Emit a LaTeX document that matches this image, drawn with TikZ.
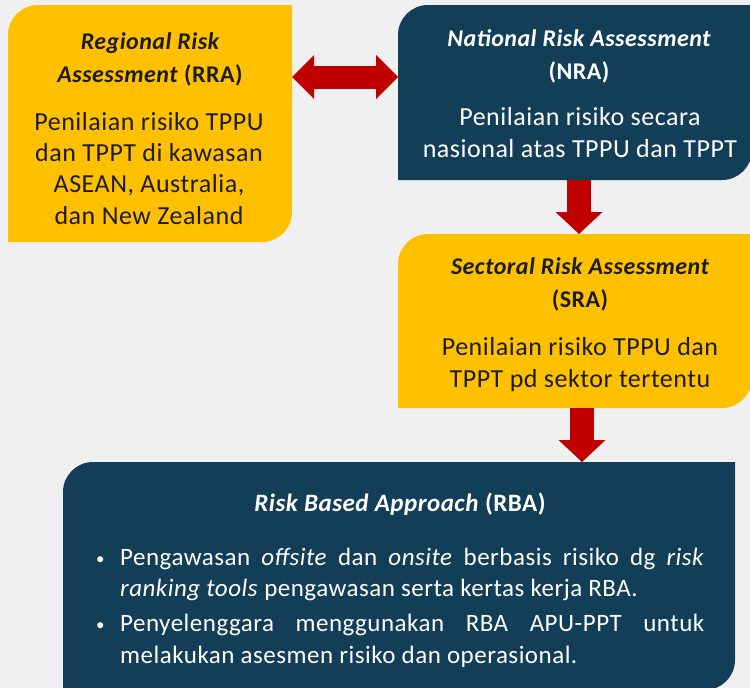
\documentclass[tikz,border=0pt]{standalone}
\usepackage{fontspec}
\setmainfont{Carlito}[LetterSpace=2]
\usetikzlibrary{arrows.meta,backgrounds}
\definecolor{RamYellow}{RGB}{255,192,0}
\definecolor{RamNavy}{RGB}{19,62,87}
\definecolor{RamRed}{RGB}{192,0,0}
\definecolor{RamBg}{RGB}{240,240,240}
\definecolor{RamInk}{RGB}{28,28,28}
\tikzset{
  ram/area/.style={
    inner sep=0pt,
    outer sep=0pt
  },
  ram/title/.style={
    anchor=base,
    align=center,
    inner sep=0pt,
    font=\fontsize{24}{32.5}\selectfont\bfseries\itshape
  },
  ram/body/.style={
    anchor=base,
    align=center,
    inner sep=0pt,
    font=\fontsize{26}{31.3}\selectfont
  },
  ram/onyellow/.style={text=RamInk},
  ram/onnavy/.style={text=white},
  ram/arrow/.style={-{Triangle[length=22pt,width=47pt,line width=0pt]}, line width=24pt, draw=RamRed},
  ram/dblarrow/.style={{Triangle[length=22pt,width=44pt,line width=0pt]}-{Triangle[length=22pt,width=44pt,line width=0pt]}, line width=23pt, draw=RamRed}
}
\newcommand\rambullet{\makebox[23pt][l]{\hspace{-1pt}\raisebox{1pt}{\fontsize{17}{17}\selectfont\textbullet}}}

\begin{document}
\begin{tikzpicture}[x=1pt,y=1pt]
  \useasboundingbox (0,0) rectangle (750,-688);
  % box areas
  \node[ram/area,minimum width=284pt,minimum height=237pt] (rra) at (150,-123.5) {};
  \node[ram/area,minimum width=354pt,minimum height=175pt] (nra) at (575,-92.5) {};
  \node[ram/area,minimum width=354pt,minimum height=174pt] (sra) at (575,-321) {};
  \node[ram/area,minimum width=672pt,minimum height=228pt] (rba) at (399,-576) {};
  \begin{scope}[on background layer]
    \fill[RamBg] (0,0) rectangle (750,-688);
    \foreach \n/\c in {rra/RamYellow,nra/RamNavy,sra/RamYellow,rba/RamNavy}
      \fill[\c] (\n.south west) -- ([yshift=-30pt]\n.north west)
        arc[start angle=180,end angle=90,radius=30pt] -- (\n.north east)
        -- ([yshift=30pt]\n.south east)
        arc[start angle=0,end angle=-90,radius=30pt] -- cycle;
  \end{scope}

  % texts (base = last line)
  \node[ram/title,ram/onyellow] (rraTitle) at (150,-82) {Regional Risk\\Assessment \textup{(RRA)}};
  \node[ram/body,ram/onyellow] (rraBody) at (149,-224) {Penilaian risiko TPPU\\dan TPPT di kawasan\\ASEAN, Australia,\\dan New Zealand};
  \node[ram/title,ram/onnavy] (nraTitle) at (579,-79) {National Risk Assessment\\\textup{(NRA)}};
  \node[ram/body,ram/onnavy] (nraBody) at (580,-157) {Penilaian risiko secara\\nasional atas TPPU dan TPPT};
  \node[ram/title,ram/onyellow] (sraTitle) at (580,-307) {Sectoral Risk Assessment\\\textup{(SRA)}};
  \node[ram/body,ram/onyellow] (sraBody) at (580,-387) {Penilaian risiko TPPU dan\\TPPT pd sektor tertentu};
  \node[ram/title,ram/onnavy,font=\fontsize{25}{32}\selectfont\bfseries\itshape] (rbaTitle) at (400,-511) {Risk Based Approach \textup{(RBA)}};
  \node[ram/onnavy,anchor=base west,inner sep=0pt,text width=607pt,align=justify,
        font=\fontsize{25}{31.5}\selectfont] (rbaList) at (97,-565) {%
    \hyphenpenalty=10000\exhyphenpenalty=10000
    \hangindent=23pt\hangafter=1\noindent\rambullet Pengawasan
    \textit{offsite} dan \textit{onsite} berbasis risiko dg \textit{risk}\linebreak
    \textit{ranking tools} pengawasan serta kertas kerja RBA.\par\vskip 3.5pt
    \hangindent=23pt\hangafter=1\noindent\rambullet Penyelenggara
    menggunakan RBA APU-PPT untuk\linebreak
    melakukan asesmen risiko dan operasional.\par};

  % connectors
  \draw[ram/dblarrow] ([yshift=-72pt]rra.north east) -- ([yshift=-72pt]nra.north west);
  \draw[ram/arrow] ([xshift=4pt]nra.south) -- ([xshift=4pt]sra.north);
  \coordinate (sraOut) at ([xshift=7pt]sra.south);
  \draw[ram/arrow] (sraOut) -- (sraOut |- rba.north);
\end{tikzpicture}
\end{document}
